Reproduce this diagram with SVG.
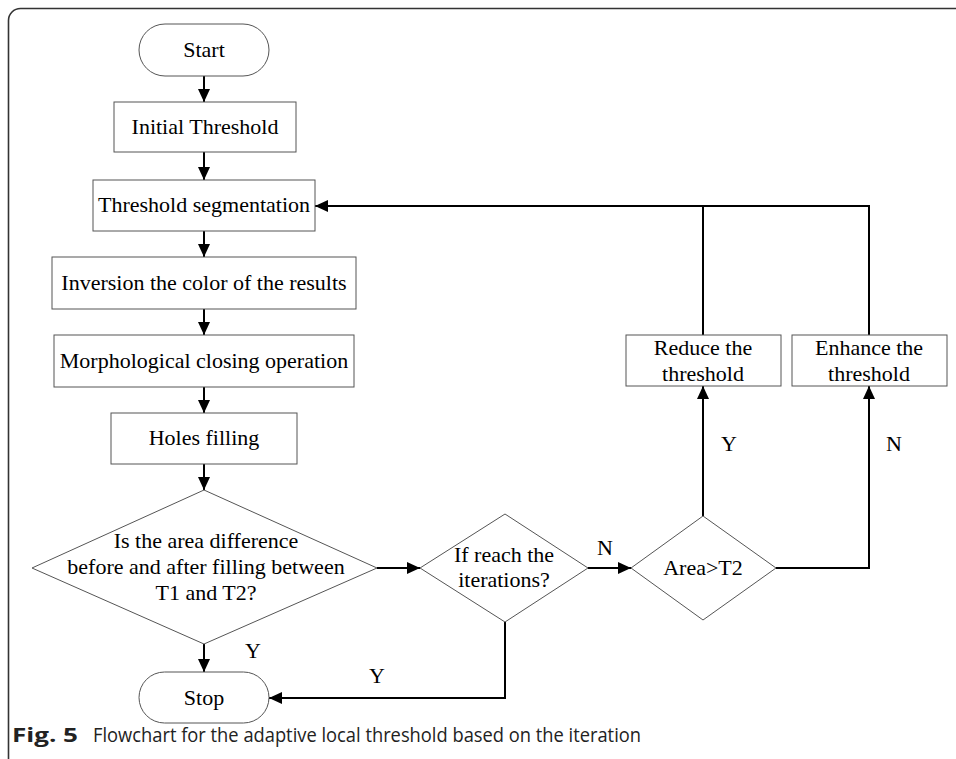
<svg xmlns="http://www.w3.org/2000/svg" width="956" height="759" viewBox="0 0 956 759">
<style>
.node{fill:#fff;stroke:#555;stroke-width:1}
.t{font-family:"Liberation Serif","Times New Roman",serif;font-size:22px;fill:#000;text-anchor:middle}
.lbl{font-family:"Liberation Serif","Times New Roman",serif;font-size:22px;fill:#000;text-anchor:middle}
.c{fill:none;stroke:#000;stroke-width:2}
.cap{font-family:"Open Sans","Noto Sans",sans-serif;font-size:19.5px;fill:#222}
</style>
<defs>
<marker id="ah" markerUnits="userSpaceOnUse" markerWidth="14" markerHeight="12" refX="13" refY="6" orient="auto">
<path d="M0,0 L13,6 L0,12 Z" fill="#000"/>
</marker>
</defs>
<rect x="0" y="0" width="956" height="759" fill="#fff"/>
<rect x="8.5" y="8.5" width="970" height="780" rx="12" fill="none" stroke="#333" stroke-width="1.6"/>

<g id="connectors">
<line class="c" x1="204" y1="76" x2="204" y2="102" marker-end="url(#ah)"/>
<line class="c" x1="204" y1="152" x2="204" y2="180" marker-end="url(#ah)"/>
<line class="c" x1="204" y1="231" x2="204" y2="257" marker-end="url(#ah)"/>
<line class="c" x1="204" y1="309" x2="204" y2="335" marker-end="url(#ah)"/>
<line class="c" x1="204" y1="387" x2="204" y2="413" marker-end="url(#ah)"/>
<line class="c" x1="204" y1="464" x2="204" y2="490" marker-end="url(#ah)"/>
<line class="c" x1="204" y1="644" x2="204" y2="672" marker-end="url(#ah)"/>
<line class="c" x1="377" y1="568" x2="420" y2="568" marker-end="url(#ah)"/>
<line class="c" x1="588" y1="568" x2="631" y2="568" marker-end="url(#ah)"/>
<polyline class="c" points="505,622 505,698 269,698" marker-end="url(#ah)"/>
<line class="c" x1="703" y1="516" x2="703" y2="386" marker-end="url(#ah)"/>
<polyline class="c" points="776,568 869,568 869,386" marker-end="url(#ah)"/>
<line class="c" x1="703" y1="335" x2="703" y2="206"/>
<polyline class="c" points="869,335 869,206 315,206" marker-end="url(#ah)"/>
<text class="lbl" x="253" y="658">Y</text>
<text class="lbl" x="377" y="683">Y</text>
<text class="lbl" x="605" y="555">N</text>
<text class="lbl" x="729" y="451">Y</text>
<text class="lbl" x="894" y="451">N</text>
</g>

<g id="start">
<rect class="node" x="139" y="24" width="130" height="52" rx="26"/>
<text class="t" x="204" y="57">Start</text>
</g>
<g id="initial">
<rect class="node" x="114" y="102" width="182" height="50"/>
<text class="t" x="205" y="134">Initial Threshold</text>
</g>
<g id="segmentation">
<rect class="node" x="93" y="180" width="222" height="51"/>
<text class="t" x="204" y="212">Threshold segmentation</text>
</g>
<g id="inversion">
<rect class="node" x="52" y="257" width="304" height="52"/>
<text class="t" x="204" y="290">Inversion the color of the results</text>
</g>
<g id="morph">
<rect class="node" x="54" y="335" width="300" height="52"/>
<text class="t" x="204" y="368">Morphological closing operation</text>
</g>
<g id="holes">
<rect class="node" x="111" y="413" width="186" height="51"/>
<text class="t" x="204" y="445">Holes filling</text>
</g>
<g id="decision1">
<polygon class="node" points="204,490 377,568 204,644 32,568"/>
<text class="t" x="206" y="548">Is the area difference</text>
<text class="t" x="206" y="574">before and after filling between</text>
<text class="t" x="206" y="600">T1 and T2?</text>
</g>
<g id="decision2">
<polygon class="node" points="505,514 588,568 505,622 420,568"/>
<text class="t" x="504" y="562">If reach the</text>
<text class="t" x="504" y="587">iterations?</text>
</g>
<g id="decision3">
<polygon class="node" points="703,516 776,568 703,620 631,568"/>
<text class="t" x="703" y="575">Area&gt;T2</text>
</g>
<g id="reduce">
<rect class="node" x="626" y="335" width="155" height="51"/>
<text class="t" x="703" y="355">Reduce the</text>
<text class="t" x="703" y="381">threshold</text>
</g>
<g id="enhance">
<rect class="node" x="792" y="335" width="155" height="51"/>
<text class="t" x="869" y="355">Enhance the</text>
<text class="t" x="869" y="381">threshold</text>
</g>
<g id="stop">
<rect class="node" x="139" y="672" width="130" height="51" rx="25.5"/>
<text class="t" x="204" y="705">Stop</text>
</g>

<g id="caption">
<text class="cap" x="12" y="742" font-weight="bold" font-size="22px" textLength="66" lengthAdjust="spacingAndGlyphs">Fig. 5</text>
<text class="cap" x="93" y="742" textLength="548" lengthAdjust="spacingAndGlyphs">Flowchart for the adaptive local threshold based on the iteration</text>
</g>
</svg>
